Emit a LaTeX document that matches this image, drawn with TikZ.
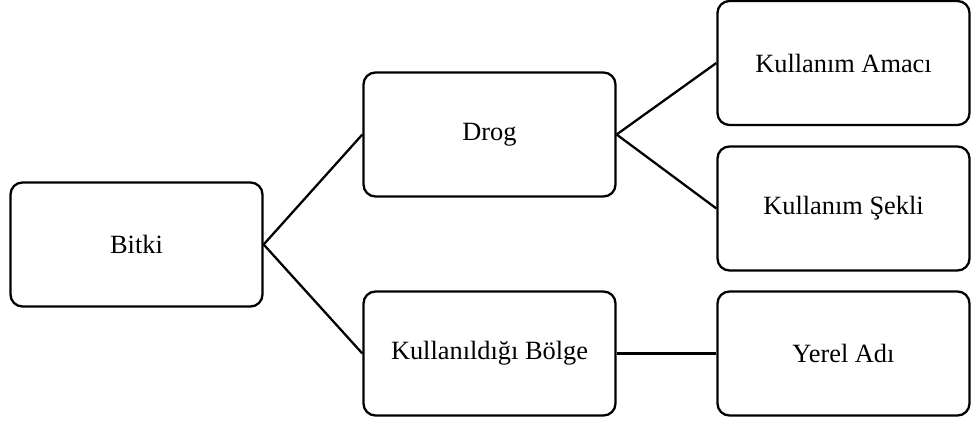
\documentclass[tikz,border=0pt]{standalone}
\usepackage{fontspec}
\setmainfont{Liberation Serif}

\begin{document}
\begin{tikzpicture}[kutu/.style={draw=black, line width=1.3pt, rounded corners=0.24cm,
      minimum width=5.04cm, minimum height=2.48cm, font=\fontsize{15}{18}\selectfont},
    bag/.style={line width=1.3pt}]
      \useasboundingbox (0,0) rectangle (19.42,8.46);
      \node[kutu] at (2.73,3.57)  (bitki)  {Bitki};
      \node[kutu] at (9.79,5.77)  (drog)   {Drog};
      \node[kutu] at (9.79,1.39)  (bolge)  {Kullanıldığı Bölge};
      \node[kutu] at (16.87,7.20) (amac)   {Kullanım Amacı};
      \node[kutu] at (16.87,4.29) (sekil)  {Kullanım Şekli};
      \node[kutu] at (16.87,1.39) (yerel)  {Yerel Adı};

      \draw[bag] (bitki.east) -- (drog.west);
      \draw[bag] (bitki.east) -- (bolge.west);
      \draw[bag] (drog.east)  -- (amac.west);
      \draw[bag] (drog.east)  -- (sekil.west);
      \draw[bag] (bolge.east) -- (yerel.west);
    \end{tikzpicture}
\end{document}
